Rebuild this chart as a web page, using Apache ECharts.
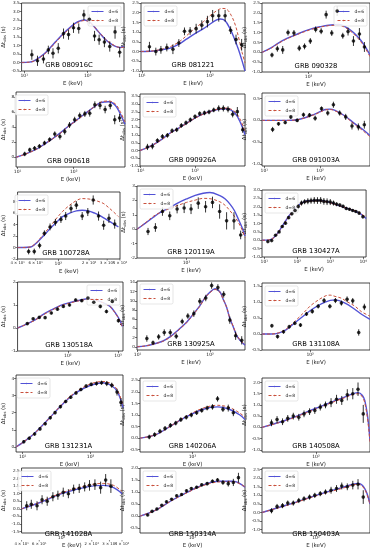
<!DOCTYPE html>
<html><head><meta charset="utf-8">
<script src="https://cdn.jsdelivr.net/npm/echarts@6/dist/echarts.min.js"></script>
<style>html,body{margin:0;padding:0;background:#fff}#c{width:370px;height:550px}</style>
</head><body><div id="c"></div>
<script>
// ---------- DATA: points [E(keV), dt(s), err], model curves [E, dt] ----------
const names = ['GRB 080916C','GRB 081221','GRB 090328','GRB 090618','GRB 090926A','GRB 091003A',
  'GRB 100728A','GRB 120119A','GRB 130427A','GRB 130518A','GRB 130925A','GRB 131108A',
  'GRB 131231A','GRB 140206A','GRB 140508A','GRB 141028A','GRB 150314A','GRB 150403A'];

const pts_080916C = [[13.2,0.46,0.3],[16.2,0.1,0.3],[20.1,0.2,0.25],[24,0.74,0.25],[28.4,0.54,0.3],[34.4,0.84,0.3],[41.6,1.7,0.3],[49.9,1.64,0.3],[59.7,2.04,0.3],[72.2,2.0,0.3],[87,2.8,0.3],[106,2.54,0.3],[128,1.56,0.3],[151,1.34,0.3],[183,1.2,0.3],[222,0.94,0.3],[269,1.8,0.4],[318,0.6,0.3]];
const d6_080916C = [[9.1,0],[12,0.02],[14,0.08],[17.5,0.3],[22,0.6],[30.8,1.2],[40,1.65],[54,2.1],[70,2.4],[89,2.5],[110,2.35],[148,1.8],[190,1.35],[232,1.1],[280,0.93],[325,0.88],[372,0.95]];
const d8_080916C = [[9.1,0],[12,0.02],[14,0.07],[17.5,0.28],[22,0.57],[30.8,1.15],[40,1.6],[54,2.05],[70,2.35],[89,2.47],[110,2.33],[148,1.82],[190,1.38],[232,1.12],[280,0.95],[325,0.88],[372,0.9]];

const pts_081221 = [[12.9,0.25,0.25],[16,0,0.2],[19,0.09,0.2],[23.2,0.21,0.2],[28.5,0.12,0.25],[34.8,0.44,0.2],[42.1,1.04,0.2],[50.9,1.06,0.2],[62.4,1.18,0.25],[75.5,1.36,0.25],[91.4,1.54,0.3],[109,1.84,0.3],[134,1.84,0.3],[166,1.84,0.3],[200,1.1,0.2],[240,0.62,0.25],[290,0.35,0.3]];
const d6_081221 = [[9.7,0],[14.8,0.03],[20,0.1],[26,0.18],[35,0.38],[45.6,0.65],[60,0.92],[79.8,1.18],[100,1.42],[125,1.63],[140,1.68],[165,1.6],[196,1.18],[225,0.7],[260,0.12],[290,-0.4],[325,-1.0]];
const d8_081221 = [[9.7,0],[14.8,0.04],[20,0.13],[26,0.25],[35,0.5],[45.6,0.83],[60,1.2],[79.8,1.54],[100,1.85],[125,2.1],[150,2.22],[175,2.18],[205,1.85],[235,1.35],[265,0.65],[295,-0.05],[325,-0.58]];

const pts_090328 = [[29,-0.14,0.12],[34.8,0.18,0.15],[41.7,0.12,0.2],[49.9,1.0,0.15],[61,0.98,0.15],[73,0.21,0.15],[87.3,0.3,0.15],[106,0.57,0.15],[127,1.16,0.15],[153,1.07,0.15],[181,1.91,0.2],[219,0.98,0.15],[263,2.09,0.25],[318,0.84,0.15],[380,1.05,0.2],[456,0.57,0.25],[558,0.93,0.3],[661,0.27,0.25]];
const d6_090328 = [[20.7,0],[28,0.22],[36.4,0.48],[48,0.7],[63.8,0.88],[85,1.06],[112,1.2],[150,1.3],[196,1.37],[275,1.41],[385,1.2],[540,0.75],[675,0.3],[798,-0.14]];
const d8_090328 = [[20.7,0],[28,0.2],[36.4,0.46],[48,0.68],[63.8,0.86],[85,1.03],[112,1.17],[150,1.28],[196,1.35],[275,1.37],[385,1.15],[540,0.68],[675,0.22],[798,-0.22]];

const pts_090618 = [[13.4,0.44,0.3],[16.5,0.98,0.3],[20.1,1.2,0.3],[24.5,1.47,0.3],[30.2,1.9,0.3],[37.3,2.36,0.3],[46,3.1,0.35],[56.8,2.76,0.4],[69.2,3.42,0.4],[84.3,4.3,0.4],[104,5.0,0.4],[128,5.56,0.4],[158,5.78,0.4],[193,5.87,0.45],[238,7.0,0.45],[294,6.9,0.5],[363,6.36,0.5],[448,6.9,0.5],[538,5.0,0.6],[656,5.24,0.55]];
const d6_090618 = [[9.4,0],[14,0.45],[22,1.1],[30,1.75],[42.5,2.5],[60,3.35],[82,4.2],[115,5.0],[158,5.8],[220,6.6],[306,7.3],[425,7.4],[553,6.9],[674,5.8],[820,4.4]];
const d8_090618 = [[9.4,0],[14,0.43],[22,1.08],[30,1.72],[42.5,2.46],[60,3.3],[82,4.15],[115,4.95],[158,5.75],[220,6.6],[306,7.35],[425,7.5],[553,7.1],[674,6.1],[820,4.7]];

const pts_090926A = [[13.3,0.23,0.2],[16.4,0.28,0.2],[20.3,0.64,0.15],[25.1,0.91,0.15],[31,0.98,0.15],[37.8,1.28,0.15],[46,1.34,0.15],[56,1.62,0.15],[68.2,1.79,0.15],[82,1.98,0.15],[100,2.19,0.15],[122,2.38,0.15],[149,2.43,0.15],[181,2.49,0.15],[221,2.62,0.15],[273,2.72,0.2],[332,2.72,0.2],[405,2.66,0.2],[493,2.34,0.2],[601,2.51,0.3],[754,1.34,0.2]];
const d6_090926A = [[9.7,0],[12,0.12],[17.1,0.38],[24,0.7],[34.7,1.13],[50,1.45],[70.3,1.77],[100,2.1],[142,2.36],[200,2.55],[288,2.68],[383,2.7],[545,2.4],[692,1.77],[832,1.02]];
const d8_090926A = [[9.7,0],[12,0.12],[17.1,0.37],[24,0.68],[34.7,1.1],[50,1.43],[70.3,1.75],[100,2.08],[142,2.35],[200,2.55],[288,2.7],[383,2.74],[545,2.5],[692,1.95],[832,1.2]];

const pts_091003A = [[14.1,-0.21,0.06],[18,-0.08,0.04],[23.7,-0.05,0.04],[29.9,0.08,0.05],[38.8,0.0,0.04],[50.3,0.13,0.05],[64.5,0.12,0.05],[81.4,0.05,0.06],[106,0.27,0.05],[137,0.17,0.06],[173,0.36,0.07],[224,0.17,0.06],[287,0.08,0.07],[372,-0.13,0.08],[484,-0.15,0.08],[619,-0.1,0.09]];
const d6_091003A = [[9.1,0],[25,0],[41,0.02],[71,0.12],[100,0.2],[123,0.25],[150,0.26],[185,0.23],[279,0.1],[422,-0.08],[600,-0.22],[782,-0.35]];
const d8_091003A = [[9.1,0],[25,0],[41,0.02],[71,0.11],[100,0.19],[123,0.24],[150,0.25],[185,0.22],[279,0.09],[422,-0.1],[600,-0.25],[782,-0.38]];

const pts_100728A = [[51.3,-0.69,0.5],[58.2,-0.69,0.5],[65.6,0.35,0.5],[73.1,2.5,0.5],[83,3.6,0.6],[93.6,4.4,0.6],[106,4.9,0.6],[118,5.5,0.7],[133,6.8,0.7],[150,7.4,0.7],[171,5.5,0.7],[194,6.2,0.7],[219,8.3,0.8],[247,5.5,0.8],[277,3.9,0.8],[312,5.1,0.8],[355,4.1,0.8]];
const d6_100728A = [[40,0],[45,0.01],[50,0.05],[55,0.17],[62,0.9],[73.1,2.2],[85,3.5],[97,4.5],[110,5.4],[129,6.0],[150,6.4],[171,6.5],[200,6.35],[227,6.0],[260,5.5],[301,4.8],[340,4.2],[386,3.6]];
const d8_100728A = [[40,0],[45,0.01],[50,0.05],[55,0.2],[62,1.0],[73.1,2.5],[85,3.9],[97,5.2],[110,6.3],[129,7.4],[150,8.2],[171,8.55],[211,8.4],[260,7.9],[281,7.6],[347,6.2],[386,5.4]];

const pts_120119A = [[26.6,-0.16,0.25],[34.3,0.12,0.3],[43.7,1.23,0.3],[56.2,0.93,0.3],[72.4,1.4,0.3],[92.3,1.47,0.35],[117,1.4,0.35],[150,1.81,0.4],[193,1.56,0.4],[245,1.86,0.4],[313,1.23,0.5],[398,0.58,0.6],[513,0.58,0.6],[646,-0.4,0.3]];
const d6_120119A = [[18.2,0],[24,0.4],[31.6,0.81],[40,1.15],[56.2,1.5],[75,1.83],[100,2.1],[135,2.35],[178,2.5],[224,2.55],[316,2.33],[380,2.1],[447,1.74],[520,1.3],[596,0.7],[680,0.1],[750,-0.47]];
const d8_120119A = [[18.2,0],[24,0.42],[31.6,0.88],[40,1.15],[56.2,1.44],[75,1.66],[100,1.86],[135,2.02],[178,2.14],[224,2.12],[316,1.9],[380,1.65],[447,1.28],[520,0.9],[596,0.47],[680,-0.05],[750,-0.58]];

const pts_130427A = [[12.8,-0.08,0.05],[16.7,-0.02,0.05],[21.9,0.3,0.05],[28,0.5,0.06],[35,0.82,0.07],[43.7,1.02,0.08],[54.7,1.35,0.08],[68.4,1.58,0.1],[85.5,1.78,0.1],[107,2.02,0.12],[134,2.22,0.15],[167,2.3,0.15],[209,2.33,0.18],[261,2.36,0.18],[327,2.38,0.2],[409,2.37,0.2],[512,2.38,0.2],[640,2.32,0.2],[800,2.3,0.2],[1000,2.28,0.18],[1250,2.22,0.15],[1560,2.15,0.12],[1950,2.1,0.1],[2440,2.02,0.1],[3050,1.9,0.1],[3830,1.85,0.08],[4790,1.78,0.08],[5980,1.72,0.08],[7480,1.62,0.1],[9770,1.4,0.1]];
const d6_130427A = [[8.5,0],[13.4,0.02],[16.7,0.07],[20.9,0.22],[26.1,0.45],[32.7,0.75],[40.9,1.05],[51.2,1.35],[64,1.6],[80,1.84],[100,2.02],[125,2.18],[156,2.28],[195,2.34],[383,2.38],[748,2.32],[1460,2.14],[2860,1.94],[5600,1.74],[8750,1.54],[12200,1.3]];
const d8_130427A = [[8.5,0],[13.4,0.02],[16.7,0.07],[20.9,0.21],[26.1,0.44],[32.7,0.73],[40.9,1.03],[51.2,1.33],[64,1.58],[80,1.82],[100,2.0],[125,2.15],[156,2.25],[195,2.31],[383,2.35],[748,2.3],[1460,2.13],[2860,1.95],[5600,1.76],[8750,1.58],[12200,1.36]];

const pts_130518A = [[15.6,0.19,0.05],[20.4,0.4,0.05],[27,0.46,0.05],[35.3,0.45,0.05],[46.9,0.65,0.06],[62.2,0.82,0.06],[81.3,0.94,0.06],[108,1.0,0.06],[143,1.22,0.06],[189,1.19,0.06],[251,1.3,0.07],[328,1.12,0.07],[442,0.94,0.08],[586,0.72,0.08],[766,1.15,0.08],[1014,0.32,0.08]];
const d6_130518A = [[10,0],[15,0.17],[22.7,0.36],[33,0.6],[47.5,0.79],[70,0.97],[100,1.08],[181,1.22],[262,1.27],[442,1.15],[690,0.94],[929,0.58],[1100,0.3],[1213,0.07]];
const d8_130518A = [[10,0],[15,0.16],[22.7,0.35],[33,0.58],[47.5,0.77],[70,0.95],[100,1.06],[181,1.2],[262,1.25],[442,1.14],[690,0.93],[929,0.56],[1100,0.28],[1213,0.04]];

const pts_130925A = [[13.4,1.8,0.7],[16.3,0.86,0.5],[19.5,2.16,0.6],[23.3,3.1,0.7],[28.2,3.1,0.7],[34.1,2.3,0.6],[41.2,5.5,0.6],[49.3,6.7,0.6],[59.6,7.2,0.7],[72.1,9.9,0.7],[87.1,10.6,0.7],[105,13.3,0.7],[128,12.9,0.7],[154,11.4,0.7],[187,5.8,0.8],[225,2.4,0.9],[273,1.4,0.9]];
const d6_130925A = [[9.8,0],[13,0.2],[16.6,0.6],[22,1.2],[28.2,2.2],[36,3.6],[47.7,5.4],[60,7.3],[72.8,9.0],[85,10.7],[100,11.9],[117,12.6],[137,11.9],[150,10.5],[169,8.6],[185,6.4],[209,4.3],[230,2.6],[259,1.4],[303,0.36]];
const d8_130925A = [[9.8,0],[13,0.2],[16.6,0.58],[22,1.15],[28.2,2.1],[36,3.5],[47.7,5.3],[60,7.2],[72.8,8.9],[85,10.6],[100,11.8],[117,12.45],[137,11.8],[150,10.5],[169,8.6],[185,6.5],[209,4.4],[230,2.7],[259,1.5],[303,0.45]];

const pts_131108A = [[24.8,0.26,0.06],[30.5,-0.08,0.06],[37.9,0.07,0.06],[46.6,0.23,0.06],[57.2,0.34,0.06],[70.3,0.28,0.06],[87.5,0.63,0.06],[108,0.71,0.07],[134,0.87,0.07],[166,1.05,0.08],[205,0.87,0.07],[251,1.05,0.08],[312,0.97,0.08],[384,1.09,0.09],[472,1.04,0.09],[587,0.05,0.1],[721,0.85,0.1]];
const d6_131108A = [[17.3,0],[24,0.0],[31.6,0.03],[42,0.14],[58,0.36],[80,0.58],[106,0.77],[172,1.0],[248,1.07],[357,0.97],[513,0.77],[650,0.62],[885,0.46]];
const d8_131108A = [[17.3,0],[24,0.0],[31.6,0.04],[42,0.16],[58,0.41],[80,0.68],[106,0.92],[172,1.19],[207,1.22],[248,1.18],[316,1.12],[357,1.05],[513,0.87],[650,0.7],[885,0.56]];

const pts_131231A = [[10.4,0.3,0.1],[12.5,0.5,0.1],[15,0.75,0.1],[18,1.05,0.1],[21.5,1.35,0.1],[25.5,1.7,0.1],[30,2.0,0.1],[36,2.35,0.1],[43,2.65,0.1],[51,2.9,0.1],[61,3.15,0.1],[72,3.35,0.1],[86,3.55,0.1],[102,3.65,0.1],[122,3.7,0.12],[145,3.75,0.12],[173,3.7,0.15],[205,3.6,0.15],[245,3.2,0.2],[280,2.6,0.25]];
const d6_131231A = [[8,0],[10,0.25],[15,0.8],[25,1.7],[40,2.55],[60,3.15],[100,3.6],[150,3.75],[200,3.6],[250,3.2],[300,2.3]];
const d8_131231A = [[8,0],[10,0.25],[15,0.8],[25,1.7],[40,2.58],[60,3.2],[100,3.68],[150,3.82],[200,3.7],[250,3.3],[300,2.4]];

const pts_140206A = [[15,0.05,0.1],[19,0.15,0.1],[24,0.3,0.1],[30,0.42,0.1],[38,0.55,0.1],[48,0.65,0.1],[60,0.8,0.1],[76,0.9,0.1],[95,1.0,0.1],[120,1.1,0.1],[150,1.2,0.1],[190,1.3,0.1],[240,1.35,0.12],[300,1.7,0.12],[380,1.25,0.12],[480,1.3,0.15],[600,1.1,0.15]];
const d6_140206A = [[10,0],[20,0.15],[40,0.55],[80,0.95],[160,1.25],[300,1.35],[500,1.25],[800,1.0],[1000,0.8]];
const d8_140206A = [[10,0],[20,0.15],[40,0.55],[80,0.97],[160,1.3],[300,1.42],[500,1.33],[800,1.08],[1000,0.9]];

const pts_140508A = [[15,0.2,0.15],[19,0.35,0.15],[24,0.25,0.15],[30,0.4,0.15],[38,0.5,0.15],[48,0.45,0.15],[60,0.6,0.15],[76,0.7,0.15],[95,0.75,0.15],[120,0.9,0.15],[150,1.0,0.15],[190,1.1,0.2],[240,1.25,0.2],[300,1.2,0.2],[380,1.45,0.25],[480,1.5,0.25],[600,1.7,0.3],[750,0.6,0.4]];
const d6_140508A = [[10,0],[30,0.35],[100,0.85],[300,1.3],[600,1.55],[800,1.2],[1000,-0.6]];
const d8_140508A = [[10,0],[30,0.33],[100,0.82],[300,1.27],[600,1.5],[800,1.1],[1000,-0.7]];

const pts_141028A = [[45,0.2,0.3],[50,0.3,0.3],[57,0.2,0.3],[64,0.6,0.3],[72,0.5,0.3],[82,0.8,0.3],[92,0.9,0.3],[104,1.1,0.3],[117,1.0,0.3],[132,1.3,0.3],[150,1.35,0.3],[170,1.45,0.3],[190,1.55,0.35],[215,1.6,0.35],[245,1.4,0.4],[275,1.9,0.4],[310,1.5,0.45]];
const d6_141028A = [[40,0],[60,0.4],[100,1.0],[180,1.45],[260,1.55],[330,1.4],[400,1.0]];
const d8_141028A = [[40,0],[60,0.42],[100,1.05],[180,1.55],[260,1.68],[330,1.55],[400,1.15]];

const pts_150314A = [[14,0.05,0.05],[17,0.2,0.05],[21,0.3,0.05],[26,0.45,0.05],[32,0.6,0.05],[40,0.7,0.05],[50,0.85,0.05],[62,0.9,0.05],[77,1.05,0.06],[95,1.15,0.06],[120,1.2,0.06],[150,1.3,0.06],[190,1.35,0.07],[240,1.45,0.07],[300,1.5,0.08],[380,1.4,0.1],[480,1.35,0.12],[600,1.4,0.15],[750,1.6,0.2]];
const d6_150314A = [[10,0],[20,0.25],[40,0.65],[80,1.0],[160,1.3],[320,1.45],[600,1.45],[1000,1.2]];
const d8_150314A = [[10,0],[20,0.25],[40,0.64],[80,0.98],[160,1.27],[320,1.42],[600,1.43],[1000,1.22]];

const pts_150403A = [[15,0.1,0.15],[19,0.35,0.15],[24,0.4,0.15],[30,0.55,0.15],[38,0.55,0.15],[48,0.7,0.15],[60,0.8,0.15],[76,0.9,0.15],[95,1.0,0.15],[120,1.1,0.15],[150,1.2,0.15],[190,1.3,0.2],[240,1.4,0.2],[300,1.55,0.2],[380,1.5,0.2],[480,1.6,0.25],[600,1.65,0.3],[750,0.9,0.4]];
const d6_150403A = [[10,0],[30,0.45],[100,1.0],[300,1.45],[600,1.7],[800,1.4],[1000,0.5]];
const d8_150403A = [[10,0],[30,0.43],[100,0.97],[300,1.4],[600,1.65],[800,1.35],[1000,0.45]];

// axis ranges and tick labels
const xRanges = [[9.1,372],[9.7,325],[20.7,798],[9.4,820],[9.7,832],[9.1,782],[40,400],[18.2,750],[8.5,12200],[10,1250],[9.8,303],[17.3,885],[8,300],[10,1000],[10,1000],[40,400],[10,1000],[10,1000]];
const yRanges = [[-0.5,3.5],[-1,2.5],[-1,2.5],[-1.3,8.7],[-1,3.65],[-1.05,0.63],[-2,9.7],[-2,3],[-1,3],[-1,2],[-0.7,14.3],[-0.5,1.6],[-0.3,4.2],[-0.6,2.6],[-1.1,2.2],[-1.6,2.7],[-0.7,2.0],[-1.2,2.6]];
const yTicks = [
  [-0.5,0,0.5,1,1.5,2,2.5,3,3.5],[-1,-0.5,0,0.5,1,1.5,2,2.5],[-1,-0.5,0,0.5,1,1.5,2,2.5],[0,2,4,6,8],
  [-1,-0.5,0,0.5,1,1.5,2,2.5,3,3.5],[-1,-0.5,0,0.5],[-2,0,2,4,6,8],[-2,-1,0,1,2,3],
  [-1,-0.5,0,0.5,1,1.5,2,2.5,3],[-1,0,1,2],[0,2,4,6,8,10,12,14],[-0.5,0,0.5,1,1.5],
  [0,1,2,3,4],[-0.5,0,0.5,1,1.5,2,2.5],[-1,-0.5,0,0.5,1,1.5,2],[-1.5,-1,-0.5,0,0.5,1,1.5,2,2.5],[-0.5,0,0.5,1,1.5,2],[-1,-0.5,0,0.5,1,1.5,2,2.5]];
const yDecimals = [1,1,1,0,1,1,0,0,1,0,0,1,0,1,1,1,1,1];
// extra (non-decade) x tick labels for the narrow-range panels
const xExtraTicks = {6:[[40,'4 × 10¹'],[60,'6 × 10¹'],[200,'2 × 10²'],[300,'3 × 10²'],[400,'4 × 10²']],
                     15:[[40,'4 × 10¹'],[60,'6 × 10¹'],[200,'2 × 10²'],[300,'3 × 10²'],[400,'4 × 10²']]};
const legendSide = ['right','left','right','left','left','left','left','left','left','right','left','left','left','left','left','left','left','left'];

const allPts = [pts_080916C,pts_081221,pts_090328,pts_090618,pts_090926A,pts_091003A,pts_100728A,pts_120119A,pts_130427A,pts_130518A,pts_130925A,pts_131108A,pts_131231A,pts_140206A,pts_140508A,pts_141028A,pts_150314A,pts_150403A];
const allD6 = [d6_080916C,d6_081221,d6_090328,d6_090618,d6_090926A,d6_091003A,d6_100728A,d6_120119A,d6_130427A,d6_130518A,d6_130925A,d6_131108A,d6_131231A,d6_140206A,d6_140508A,d6_141028A,d6_150314A,d6_150403A];
const allD8 = [d8_080916C,d8_081221,d8_090328,d8_090618,d8_090926A,d8_091003A,d8_100728A,d8_120119A,d8_130427A,d8_130518A,d8_130925A,d8_131108A,d8_131231A,d8_140206A,d8_140508A,d8_141028A,d8_150314A,d8_150403A];

// ---------- LAYOUT (plot boxes: left, top, width, height) ----------
const layout = [
  [14,3,110,68],[141,3,104,68],[262,3,108,69],
  [12,92,113,75],[140,94,105,72],[262,93,108,73],
  [12,192,108,67],[137,186,108,72],[262,190,108,67],
  [15,282,108,69],[137,281,108,69],[262,283,108,67],
  [14,375,109,77],[140,378,105,74],[262,378,108,74],
  [15,468,107,72],[140,468,105,72],[262,468,108,72]];

const FONT = 'DejaVu Sans';
const BLUE = '#5252d6', RED = '#c9503c';
const sup = {'0':'⁰','1':'¹','2':'²','3':'³','4':'⁴','5':'⁵','-':'⁻'};
function logLabel(v){const e=Math.log10(v);if(Math.abs(e-Math.round(e))>1e-6)return '';return '10'+String(Math.round(e)).split('').map(c=>sup[c]).join('');}

const chart = echarts.init(document.getElementById('c'), null, {renderer:'canvas'});
const grid=[], xAxis=[], yAxis=[], series=[], legend=[], title=[];
names.forEach((nm,i)=>{
  const [l,t,w,h] = layout[i];
  grid.push({left:l, top:t, width:w, height:h, show:true, borderColor:'#1a1a1a', borderWidth:0.8, backgroundColor:'transparent'});
  xAxis.push({type:'log', logBase:10, gridIndex:i, min:xRanges[i][0], max:xRanges[i][1], position:'bottom',
    axisLine:{show:false, onZero:false}, splitLine:{show:false},
    axisTick:{show:true, length:2, lineStyle:{color:'#1a1a1a', width:0.6}},
    axisLabel:{fontSize:4.5, margin:2, color:'#222', fontFamily:FONT, formatter:logLabel, showMinLabel:false, showMaxLabel:false},
    name:'E (keV)', nameLocation:'middle', nameGap:10, nameTextStyle:{fontSize:5.5, color:'#222', fontFamily:FONT}});
  const dec = yDecimals[i];
  yAxis.push({type:'value', gridIndex:i, min:yRanges[i][0], max:yRanges[i][1], position:'left',
    axisLine:{show:false, onZero:false}, splitLine:{show:false},
    axisTick:{show:true, length:2, customValues:yTicks[i], lineStyle:{color:'#1a1a1a', width:0.6}},
    axisLabel:{customValues:yTicks[i], fontSize:4.2, margin:2, color:'#222', fontFamily:FONT, formatter:v=>v.toFixed(dec)},
    name:'{a|Δt}{b|obs}{a| (s)}', nameLocation:'middle', nameRotate:90, nameGap: dec? 11 : 8,
    nameTextStyle:{fontFamily:FONT, rich:{a:{fontSize:5.5, color:'#222', fontFamily:FONT}, b:{fontSize:3.8, color:'#222', fontFamily:FONT, padding:[3,0,0,0]}}}});
  series.push({type:'line', name:'d=6', xAxisIndex:i, yAxisIndex:i, data:allD6[i], showSymbol:false, symbol:'none', smooth:0.35,
    lineStyle:{color:BLUE, width:1.4}, itemStyle:{color:BLUE}, z:2, silent:true});
  series.push({type:'line', name:'d=8', xAxisIndex:i, yAxisIndex:i, data:allD8[i], showSymbol:false, symbol:'none', smooth:0.35,
    lineStyle:{color:RED, width:1.0, type:[3,2]}, itemStyle:{color:RED}, z:2, silent:true});
  series.push({type:'custom', name:'err'+i, xAxisIndex:i, yAxisIndex:i,
    data:allPts[i].map(d=>[d[0], d[1]-d[2], d[1]+d[2]]), encode:{x:0, y:[1,2]},
    renderItem:(params, api)=>{const a=api.coord([api.value(0),api.value(1)]);const b=api.coord([api.value(0),api.value(2)]);
      return {type:'line', shape:{x1:a[0],y1:a[1],x2:b[0],y2:b[1]}, style:{stroke:'#000', lineWidth:0.8}};}, z:3, silent:true});
  series.push({type:'scatter', name:'pts'+i, xAxisIndex:i, yAxisIndex:i, data:allPts[i].map(d=>[d[0],d[1]]),
    symbolSize:3.6, itemStyle:{color:'#000'}, z:4, silent:true});
  const lg = {data:['d=6','d=8'], orient:'vertical', top:t+3, itemWidth:12, itemHeight:2, itemGap:4, padding:[3,3,3,3],
    textStyle:{fontSize:4.5, color:'#222', fontFamily:FONT}, backgroundColor:'rgba(255,255,255,0.85)',
    lineStyle:{width:1}, borderColor:'#cccccc', borderWidth:0.5, borderRadius:1.5, selectedMode:false};
  if (legendSide[i]==='right') lg.right = 370-(l+w)+3; else lg.left = l+3;
  legend.push(lg);
  title.push({text:nm, left:l+w/2, top:t+h-2, textAlign:'center', textVerticalAlign:'bottom', padding:0,
    textStyle:{fontSize:6.8, fontFamily:FONT, color:'#000', fontWeight:'normal'}});
});
chart.setOption({animation:false, backgroundColor:'#fff', grid, xAxis, yAxis, series, legend, title});

// extra minor-position tick labels placed through the axis scale
const graphic = [];
Object.keys(xExtraTicks).forEach(k=>{
  const i = +k; const [l,t,w,h] = layout[i];
  xExtraTicks[k].forEach(([v,txt])=>{
    const px = chart.convertToPixel({xAxisIndex:i}, v);
    graphic.push({type:'text', x:px, y:t+h+2, style:{text:txt, fontSize:3.8, fontFamily:FONT, fill:'#222', align:'center', verticalAlign:'top'}, silent:true});
    graphic.push({type:'line', shape:{x1:px,y1:t+h,x2:px,y2:t+h+1.5}, style:{stroke:'#1a1a1a', lineWidth:0.5}, silent:true});
  });
});
chart.setOption({graphic});
</script></body></html>
